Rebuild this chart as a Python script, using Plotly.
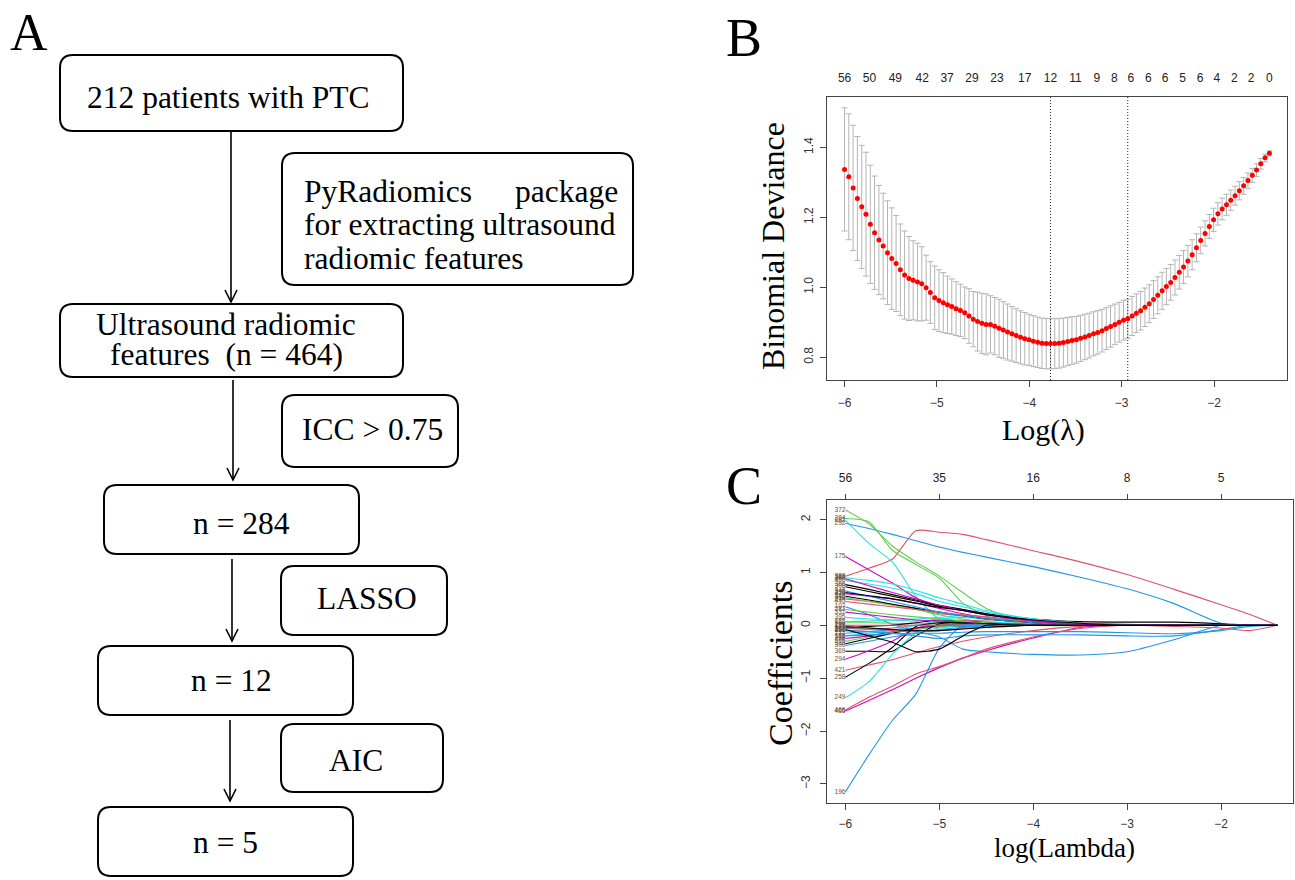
import plotly.graph_objects as go

W, H = 1295, 880
SERIF = "Liberation Serif, Times New Roman, serif"
SANS = "Liberation Sans, Arial, sans-serif"

# ---------------- Panel B: cross-validated binomial deviance ----------------
log_lambda = [-6.000, -5.954, -5.907, -5.861, -5.814, -5.768, -5.721, -5.675, -5.628, -5.582,
              -5.535, -5.489, -5.442, -5.396, -5.350, -5.303, -5.257, -5.210, -5.164, -5.117,
              -5.071, -5.024, -4.978, -4.931, -4.885, -4.839, -4.792, -4.746, -4.699, -4.653,
              -4.606, -4.560, -4.513, -4.467, -4.420, -4.374, -4.327, -4.281, -4.235, -4.188,
              -4.142, -4.095, -4.049, -4.002, -3.956, -3.909, -3.863, -3.816, -3.770, -3.724,
              -3.677, -3.631, -3.584, -3.538, -3.491, -3.445, -3.398, -3.352, -3.305, -3.259,
              -3.212, -3.166, -3.120, -3.073, -3.027, -2.980, -2.934, -2.887, -2.841, -2.794,
              -2.748, -2.701, -2.655, -2.609, -2.562, -2.516, -2.469, -2.423, -2.376, -2.330,
              -2.283, -2.237, -2.190, -2.144, -2.097, -2.051, -2.005, -1.958, -1.912, -1.865,
              -1.819, -1.772, -1.726, -1.679, -1.633, -1.586, -1.540, -1.494, -1.447, -1.400]
cv_mean = [1.337, 1.316, 1.284, 1.254, 1.230, 1.209, 1.180, 1.156, 1.135, 1.118,
           1.099, 1.082, 1.068, 1.050, 1.035, 1.025, 1.020, 1.015, 1.010, 0.999,
           0.985, 0.970, 0.962, 0.956, 0.950, 0.945, 0.939, 0.934, 0.927, 0.918,
           0.909, 0.902, 0.897, 0.894, 0.894, 0.889, 0.883, 0.878, 0.872, 0.867,
           0.862, 0.857, 0.853, 0.850, 0.846, 0.843, 0.840, 0.839, 0.839, 0.839,
           0.840, 0.842, 0.845, 0.848, 0.850, 0.854, 0.858, 0.862, 0.867, 0.871,
           0.876, 0.882, 0.888, 0.894, 0.900, 0.906, 0.910, 0.918, 0.926, 0.933,
           0.943, 0.953, 0.965, 0.977, 0.990, 1.002, 1.014, 1.028, 1.043, 1.058,
           1.075, 1.093, 1.113, 1.134, 1.154, 1.174, 1.193, 1.210, 1.224, 1.236,
           1.249, 1.262, 1.276, 1.290, 1.305, 1.320, 1.335, 1.353, 1.370, 1.383]
cv_se = [0.176, 0.180, 0.179, 0.177, 0.176, 0.177, 0.169, 0.162, 0.156, 0.151,
         0.148, 0.145, 0.137, 0.131, 0.126, 0.120, 0.113, 0.111, 0.106, 0.093,
         0.088, 0.091, 0.088, 0.086, 0.082, 0.079, 0.077, 0.075, 0.074, 0.078,
         0.079, 0.084, 0.086, 0.087, 0.082, 0.082, 0.083, 0.081, 0.080, 0.078,
         0.077, 0.076, 0.075, 0.073, 0.073, 0.072, 0.072, 0.072, 0.072, 0.071,
         0.071, 0.070, 0.069, 0.068, 0.067, 0.066, 0.065, 0.064, 0.063, 0.062,
         0.061, 0.060, 0.059, 0.058, 0.057, 0.057, 0.056, 0.056, 0.055, 0.055,
         0.055, 0.054, 0.054, 0.053, 0.053, 0.052, 0.051, 0.050, 0.048, 0.047,
         0.045, 0.043, 0.040, 0.038, 0.036, 0.034, 0.033, 0.032, 0.031, 0.030,
         0.029, 0.027, 0.026, 0.024, 0.022, 0.020, 0.018, 0.015, 0.011, 0.007]
top_b_pos = [-6.00, -5.73, -5.45, -5.16, -4.89, -4.62, -4.35, -4.05, -3.77, -3.50,
             -3.27, -3.08, -2.90, -2.71, -2.53, -2.34, -2.15, -1.97, -1.78, -1.60, -1.40]
top_b_labels = ["56", "50", "49", "42", "37", "29", "23", "17", "12", "11",
                "9", "8", "6", "6", "6", "5", "6", "4", "2", "2", "0"]
lambda_min_log = -3.770
lambda_1se_log = -2.934
b_xticks = [-6, -5, -4, -3, -2]
b_yticks = [0.8, 1.0, 1.2, 1.4]

# ---------------- Panel C: LASSO coefficient profiles ----------------
coef_knots = [-6.0, -5.75, -5.5, -5.25, -5.0, -4.75, -4.5, -4.0, -3.5, -3.0, -2.5, -2.0, -1.7, -1.4]
coef_names = ["389", "292", "372", "284", "282", "175", "366", "308", "400", "244",
              "326", "340", "107", "420", "151", "171", "181", "232", "113", "256",
              "205", "318", "129", "300", "395", "331", "283", "348", "440", "346",
              "369", "294", "421", "258", "249", "465", "466", "196", "390", "288",
              "156", "388", "360", "333", "252", "349"]
coef_values = [
    [0.93, 1.08, 1.25, 1.79, 1.76, 1.72, 1.62, 1.41, 1.20, 0.96, 0.68, 0.39, 0.21, 0.0],
    [1.93, 1.83, 1.72, 1.60, 1.48, 1.38, 1.29, 1.11, 0.91, 0.69, 0.41, 0.04, 0.0, 0.0],
    [2.18, 1.92, 1.50, 1.20, 0.93, 0.62, 0.32, 0.03, 0, 0, 0, 0, 0, 0],
    [2.02, 1.96, 1.42, 1.15, 0.89, 0.42, 0.18, 0.0, 0, 0, 0, 0, 0, 0],
    [1.99, 1.55, 1.20, 0.55, 0.12, 0.10, 0.07, 0.02, 0, 0, 0, 0, 0, 0],
    [1.30, 1.05, 0.80, 0.52, 0.36, 0.30, 0.22, 0.10, 0.03, 0, 0, 0, 0, 0],
    [0.77, 0.68, 0.58, 0.48, 0.38, 0.30, 0.22, 0.12, 0.07, 0.06, 0.06, 0.03, 0.0, 0.0],
    [0.73, 0.64, 0.55, 0.46, 0.36, 0.28, 0.20, 0.10, 0.04, 0, 0, 0, 0, 0],
    [0.85, 0.78, 0.70, 0.60, 0.45, 0.35, 0.25, 0.12, 0.05, 0, 0, 0, 0, 0],
    [0.50, 0.45, 0.40, 0.32, 0.22, 0.18, 0.13, 0.06, 0.02, 0, 0, 0, 0, 0],
    [0.60, 0.55, 0.50, 0.42, 0.32, 0.22, 0.15, 0.06, 0, 0, 0, 0, 0, 0],
    [0.52, 0.45, 0.38, 0.30, 0.20, 0.12, 0.05, 0, 0, 0, 0, 0, 0, 0],
    [0.35, 0.20, 0.02, -0.12, -0.22, -0.45, -0.50, -0.55, -0.56, -0.50, -0.27, 0.0, 0.0, 0.0],
    [0.07, 0.08, 0.10, 0.12, 0.15, 0.18, 0.15, 0.08, 0.03, 0, 0, 0, 0, 0],
    [0.05, 0.05, 0.04, 0.03, 0.02, 0.01, 0, 0, 0, 0, 0, 0, 0, 0],
    [-0.03, -0.02, 0.0, 0.05, 0.10, 0.08, 0.05, 0.01, 0, 0, 0, 0, 0, 0],
    [-0.10, -0.08, -0.05, 0.0, 0.05, 0.08, 0.10, 0.09, 0.05, 0.02, 0, 0, 0, 0],
    [-0.15, -0.12, -0.08, -0.05, -0.03, -0.02, -0.01, 0, 0, 0, 0, 0, 0, 0],
    [-0.20, -0.15, -0.10, 0.0, 0.08, 0.06, 0.03, 0, 0, 0, 0, 0, 0, 0],
    [-0.25, -0.20, -0.12, -0.06, -0.02, 0, 0, 0, 0, 0, 0, 0, 0, 0],
    [-0.30, -0.22, -0.15, -0.08, -0.03, 0, 0, 0, 0, 0, 0, 0, 0, 0],
    [-0.35, -0.25, -0.15, -0.05, 0, 0, 0, 0, 0, 0, 0, 0, 0, 0],
    [0.0, -0.05, -0.10, -0.12, -0.10, -0.06, -0.03, 0, 0, 0, 0, 0, 0, 0],
    [-0.38, -0.30, -0.22, -0.15, -0.08, -0.04, -0.02, 0, 0, 0, 0, 0, 0, 0],
    [0.15, 0.12, 0.10, 0.08, 0.12, 0.15, 0.12, 0.05, 0, 0, 0, 0, 0, 0],
    [0.25, 0.20, 0.15, 0.10, 0.08, 0.06, 0.04, 0.02, 0, 0, 0, 0, 0, 0],
    [0.30, 0.25, 0.20, 0.16, 0.12, 0.08, 0.05, 0.01, 0, 0, 0, 0, 0, 0],
    [0.55, 0.48, 0.40, 0.32, 0.25, 0.18, 0.12, 0.05, 0, 0, 0, 0, 0, 0],
    [0.45, 0.40, 0.35, 0.30, 0.25, 0.20, 0.16, 0.08, 0.03, 0, 0, 0, 0, 0],
    [0.65, 0.55, 0.45, 0.35, 0.25, 0.18, 0.12, 0.05, 0, 0, 0, 0, 0, 0],
    [-0.49, -0.49, -0.49, -0.20, 0.03, 0.04, 0.03, 0.01, 0, 0, 0, 0, 0, 0],
    [-0.64, -0.48, -0.30, -0.05, 0, 0, 0, 0, 0, 0, 0, 0, 0, 0],
    [-0.85, -0.75, -0.65, -0.52, -0.40, -0.30, -0.22, -0.10, -0.02, 0, 0, 0, 0, 0],
    [-0.98, -0.72, -0.42, -0.02, 0.05, 0.05, 0.03, 0.0, 0, 0, 0, 0, 0, 0],
    [-1.37, -1.07, -0.55, -0.15, -0.05, 0.0, 0, 0, 0, 0, 0, 0, 0, 0],
    [-1.62, -1.42, -1.22, -1.00, -0.80, -0.62, -0.48, -0.24, -0.04, 0, 0, 0, 0, 0],
    [-1.60, -1.36, -1.15, -0.92, -0.78, -0.62, -0.45, -0.22, -0.06, 0, 0, 0, 0, 0],
    [-3.15, -2.45, -1.80, -1.30, -0.43, 0.0, 0.02, 0.0, 0, 0, 0, 0, 0, 0],
    [-0.10, -0.12, -0.15, -0.20, -0.25, -0.20, -0.18, -0.18, -0.18, -0.20, -0.20, -0.08, 0.0, 0.0],
    [0, 0, 0, 0, 0, 0, 0, 0, 0, 0, -0.02, -0.05, -0.10, 0.0],
    [-0.20, -0.18, -0.16, -0.15, -0.15, -0.13, -0.12, -0.12, -0.12, -0.14, -0.16, -0.10, -0.02, 0.0],
    [0.90, 0.85, 0.78, 0.66, 0.52, 0.40, 0.28, 0.12, 0.04, 0, 0, 0, 0, 0],
    [0.88, 0.75, 0.62, 0.50, 0.38, 0.28, 0.20, 0.08, 0.02, 0, 0, 0, 0, 0],
    [0.62, 0.56, 0.50, 0.42, 0.34, 0.28, 0.20, 0.10, 0.04, 0, 0, 0, 0, 0],
    [-0.08, -0.20, -0.32, -0.50, -0.45, -0.20, 0.0, 0, 0, 0, 0, 0, 0, 0],
    [-0.05, -0.05, -0.08, -0.10, -0.10, -0.07, -0.04, 0.0, 0, 0, 0, 0, 0, 0],
]
BLK, RED, GRN, BLU, CYN, MAG = "#000000", "#DF536B", "#61D04F", "#2297E6", "#28E2E5", "#CD0BBC"
path_colors = [RED, BLU, GRN, GRN, CYN, MAG, BLK, BLK, CYN, RED,
               MAG, GRN, BLU, CYN, GRN, BLK, RED, BLU, CYN, MAG,
               GRN, BLK, RED, BLU, CYN, MAG, GRN, BLK, RED, BLU,
               BLK, MAG, RED, BLK, CYN, MAG, RED, BLU, BLU, RED,
               BLU, CYN, MAG, BLK, BLK, BLK]
c_xticks = [-6, -5, -4, -3, -2]
c_top_labels = ["56", "35", "16", "8", "5"]
c_yticks = [-3, -2, -1, 0, 1, 2]

# ---------------- Panel A: flowchart text ----------------
flow_texts = ["212 patients with PTC", "n = 284", "n = 12", "n = 5"]
side_texts = ["ICC > 0.75", "LASSO", "AIC"]
pyrad_lines = ["for extracting ultrasound", "radiomic features"]
us_lines = ["Ultrasound radiomic", "features  (n = 464)"]


def fx(x):
    return x / W


def fy(y):
    return 1 - y / H


def rounded(x0, y0, x1, y1, r=13):
    p = lambda x, y: f"{fx(x):.5f},{fy(y):.5f}"
    return (f"M{p(x0 + r, y0)} L{p(x1 - r, y0)} Q{p(x1, y0)} {p(x1, y0 + r)} "
            f"L{p(x1, y1 - r)} Q{p(x1, y1)} {p(x1 - r, y1)} L{p(x0 + r, y1)} "
            f"Q{p(x0, y1)} {p(x0, y1 - r)} L{p(x0, y0 + r)} Q{p(x0, y0)} {p(x0 + r, y0)} Z")


fig = go.Figure()

# ---- Panel B traces ----
fig.add_trace(go.Scatter(
    x=log_lambda, y=cv_mean, mode="markers",
    marker=dict(color="#FF0000", size=5),
    error_y=dict(type="data", array=cv_se, color="#B4B4B4", thickness=1, width=3),
    xaxis="x", yaxis="y", hoverinfo="skip"))
fig.add_trace(go.Scatter(x=[log_lambda[0]], y=[cv_mean[0]], mode="markers",
                         marker=dict(opacity=0), xaxis="x2", yaxis="y", hoverinfo="skip"))

# ---- Panel C traces ----
for vals, col in zip(coef_values, path_colors):
    fig.add_trace(go.Scatter(x=coef_knots, y=vals, mode="lines",
                             line=dict(color=col, width=1.1, shape="spline", smoothing=0.6),
                             xaxis="x3", yaxis="y3", hoverinfo="skip"))
fig.add_trace(go.Scatter(
    x=[coef_knots[0]] * len(coef_values), y=[v[0] for v in coef_values],
    text=coef_names, mode="text", textposition="middle left",
    textfont=dict(family=SANS, size=6.5, color="#555"),
    xaxis="x3", yaxis="y3", cliponaxis=False, hoverinfo="skip"))
fig.add_trace(go.Scatter(x=[coef_knots[0]], y=[0], mode="markers",
                         marker=dict(opacity=0), xaxis="x4", yaxis="y3", hoverinfo="skip"))

shapes = []
annotations = []

# dotted lambda lines in B
for xv in (lambda_min_log, lambda_1se_log):
    shapes.append(dict(type="line", xref="x", yref="y domain", x0=xv, x1=xv, y0=0, y1=1,
                       line=dict(color="#222", width=1, dash="1px,2px")))

# flowchart boxes
box_main = [(60, 55, 403, 131), (60, 304, 403, 377), (104, 485, 359, 554),
            (98, 646, 353, 715), (98, 807, 353, 876)]
box_side = [(282, 153, 633, 285), (282, 395, 458, 467), (281, 566, 447, 635), (281, 724, 443, 792)]
for b in box_main + box_side:
    shapes.append(dict(type="path", xref="paper", yref="paper", path=rounded(*b),
                       line=dict(color="black", width=2)))

# arrows
arrows = [(231, 131, 302), (233, 380, 480), (232, 559, 641), (230, 720, 801)]
for x, y0, y1 in arrows:
    shapes.append(dict(type="line", xref="paper", yref="paper",
                       x0=fx(x), x1=fx(x), y0=fy(y0), y1=fy(y1),
                       line=dict(color="black", width=1.6)))
    shapes.append(dict(type="path", xref="paper", yref="paper",
                       path=f"M{fx(x - 6):.5f},{fy(y1 - 12):.5f} L{fx(x):.5f},{fy(y1):.5f} "
                            f"L{fx(x + 6):.5f},{fy(y1 - 12):.5f}",
                       line=dict(color="black", width=1.6)))


def txt(x, y, s, size, family=SERIF, xanchor="center", angle=0, color="black"):
    annotations.append(dict(x=fx(x), y=fy(y), xref="paper", yref="paper", text=s,
                            showarrow=False, xanchor=xanchor, yanchor="middle",
                            textangle=angle, font=dict(family=family, size=size, color=color)))


FS = 31.5
txt(228, 98, flow_texts[0], FS)
txt(226, 324, us_lines[0], FS)
txt(226, 355, us_lines[1], FS)
txt(241, 523, flow_texts[1], FS)
txt(232, 680, flow_texts[2], FS)
txt(225, 842, flow_texts[3], FS)
txt(372, 429, side_texts[0], FS)
txt(367, 598, side_texts[1], FS)
txt(356, 760, side_texts[2], FS)
txt(302, 192, "PyRadiomics", FS, xanchor="left")
txt(620, 192, "package", FS, xanchor="right")
txt(302, 225, pyrad_lines[0], FS, xanchor="left")
txt(302, 258, pyrad_lines[1], FS, xanchor="left")

# panel letters
txt(29, 33, "A", 52)
txt(744, 38, "B", 54)
txt(744, 486, "C", 54)

# axis titles
txt(773, 246, "Binomial Deviance", 32, angle=-90)
txt(1043, 430, "Log(λ)", 30)
txt(780, 663, "Coefficients", 34, angle=-90)
txt(1064, 848, "log(Lambda)", 27)

axis_common = dict(showgrid=False, zeroline=False, showline=True, linecolor="#444",
                   linewidth=1, mirror=True, ticks="outside", ticklen=6, tickcolor="#444",
                   tickfont=dict(family=SANS, size=12, color="#333"))

fig.update_layout(
    width=W, height=H, margin=dict(l=0, r=0, t=0, b=0),
    paper_bgcolor="white", plot_bgcolor="white", showlegend=False,
    xaxis=dict(domain=[fx(827), fx(1287)], range=[-6.19, -1.21], anchor="y",
               tickvals=b_xticks, ticklabelstandoff=6, **axis_common),
    yaxis=dict(domain=[fy(380), fy(97)], range=[0.735, 1.544], anchor="x",
               tickvals=b_yticks, ticktext=[f"{v:.1f}" for v in b_yticks], tickangle=-90,
               ticklabelstandoff=2, **axis_common),
    xaxis2=dict(overlaying="x", side="top", anchor="y", range=[-6.19, -1.21],
                tickvals=top_b_pos, ticktext=top_b_labels, ticks="", showline=False,
                showgrid=False, zeroline=False, ticklabelstandoff=12,
                tickfont=dict(family=SANS, size=12, color="#222")),
    xaxis3=dict(domain=[fx(827), fx(1293)], range=[-6.196, -1.234], anchor="y3",
                tickvals=c_xticks, ticklabelstandoff=4, **axis_common),
    yaxis3=dict(domain=[fy(803), fy(500)], range=[-3.36, 2.37], anchor="x3",
                tickvals=c_yticks, tickangle=-90, ticklabelstandoff=5, **axis_common),
    xaxis4=dict(overlaying="x3", side="top", anchor="y3", range=[-6.196, -1.234],
                tickvals=c_xticks, ticktext=c_top_labels, ticks="outside", ticklen=5,
                tickcolor="#444", showline=False, showgrid=False, zeroline=False,
                ticklabelstandoff=7,
                tickfont=dict(family=SANS, size=12, color="#222")),
    shapes=shapes, annotations=annotations,
)

fig.write_html("out.html", config={"displayModeBar": False},
               post_script="document.body.style.margin='0px';document.body.style.overflow='hidden';")
